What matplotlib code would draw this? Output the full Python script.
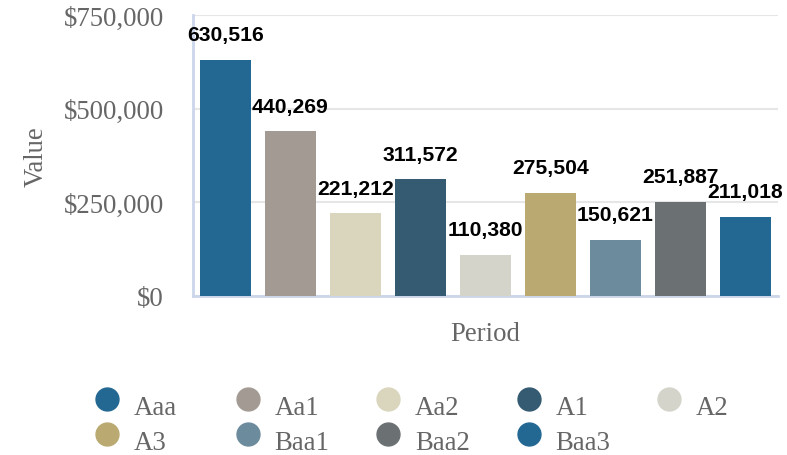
import matplotlib
matplotlib.use("Agg")
import matplotlib.pyplot as plt
from matplotlib.ticker import FuncFormatter

categories = ["Aaa", "Aa1", "Aa2", "A1", "A2", "A3", "Baa1", "Baa2", "Baa3"]
values = [630516, 440269, 221212, 311572, 110380, 275504, 150621, 251887, 211018]
colors = ["#236892", "#a39a93", "#dad6bd", "#345b72", "#d4d4ca", "#baaa72",
          "#6c8b9c", "#6b7073", "#236893"]
yticks = [0, 250000, 500000, 750000]

W, H = 787, 456
fig = plt.figure(figsize=(W / 100, H / 100), dpi=100)
serif = "Liberation Serif"
gray = "#666666"
fs = 19.3

L, R, T, B = 193, 778, 16, 297
ax = fig.add_axes([L / W, 1 - B / H, (R - L) / W, (B - T) / H])

x = list(range(len(categories)))
ax.bar(x, values, width=0.77, color=colors, zorder=3)
ax.set_xlim(-0.5, len(categories) - 0.5)
ax.set_ylim(0, 750000)
ax.set_yticks(yticks)
ax.yaxis.set_major_formatter(FuncFormatter(lambda v, p: "${:,.0f}".format(v)))
ax.set_xticks([])
ax.grid(axis="y", color="#e6e6e6", linewidth=1.5, zorder=0)
for s in ["top", "right"]:
    ax.spines[s].set_visible(False)
for s in ["left", "bottom"]:
    ax.spines[s].set_color("#ccd6eb")
    ax.spines[s].set_linewidth(2)
ax.tick_params(axis="y", length=0, pad=21, labelsize=fs, labelcolor=gray)
for lab in ax.get_yticklabels():
    lab.set_fontfamily(serif)

for xi, v in zip(x, values):
    ax.annotate("{:,}".format(v), (xi, v), xytext=(0, 18), textcoords="offset points",
                ha="center", va="center", fontsize=15.2, fontweight="bold",
                family="Liberation Sans", color="black", zorder=5)

ax.set_ylabel("Value", family=serif, fontsize=fs, color=gray, labelpad=11)
ax.set_xlabel("Period", family=serif, fontsize=fs, color=gray, labelpad=18)

# legend laid out on a grid (row-major, 5 columns)
lax = fig.add_axes([0, 0, 1, 1])
lax.set_xlim(0, W)
lax.set_ylim(H, 0)
lax.axis("off")
for i, (name, c) in enumerate(zip(categories, colors)):
    row, col = divmod(i, 5)
    cx = 107 + 140.5 * col
    cy = 400 + 35 * row
    lax.plot([cx], [cy], marker="o", markersize=16.5, color=c, linestyle="none")
    lax.text(cx + 27, cy + 15, name, family=serif, fontsize=fs, color=gray,
             ha="left", va="baseline")

fig.savefig("out.png", dpi=100)
